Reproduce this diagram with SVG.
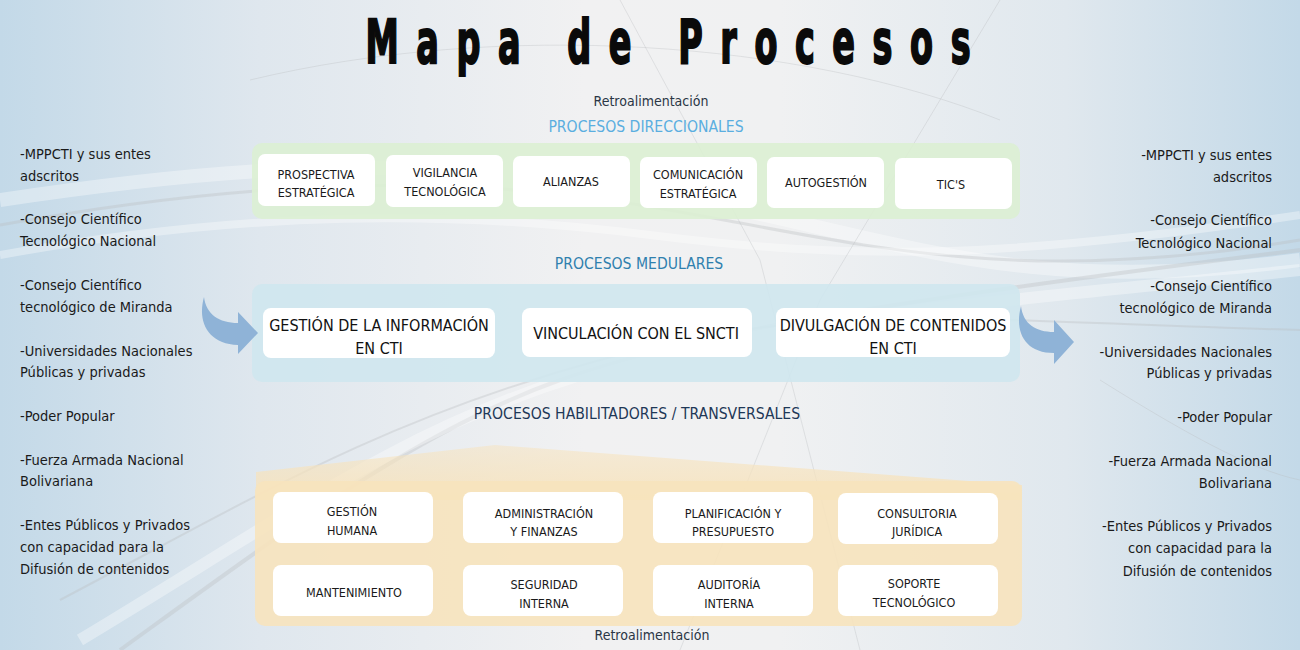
<svg xmlns="http://www.w3.org/2000/svg" width="1300" height="650" viewBox="0 0 1300 650">
<defs>
<linearGradient id="bg" x1="0" y1="0" x2="1" y2="0">
<stop offset="0" stop-color="#c3d9e8"/>
<stop offset="0.2" stop-color="#dfe7ee"/>
<stop offset="0.45" stop-color="#f1f1f2"/>
<stop offset="0.6" stop-color="#f0f1f2"/>
<stop offset="0.82" stop-color="#e0e8ee"/>
<stop offset="1" stop-color="#c3d9e8"/>
</linearGradient>
<linearGradient id="roof" x1="0" y1="0" x2="0" y2="1">
<stop offset="0" stop-color="#f7e3bd" stop-opacity="0.5"/>
<stop offset="1" stop-color="#f7e3bd" stop-opacity="0.9"/>
</linearGradient>
<style>
.t{font-family:"DejaVu Sans Condensed","Liberation Sans",sans-serif;}
.box{fill:#ffffff;}
.bt{font-size:12.5px;fill:#1a1a1a;text-anchor:middle;}
.mt{font-size:16px;fill:#111111;text-anchor:middle;}
.side{font-size:14.5px;fill:#1a1a1a;}
.sr{text-anchor:end;}
.sec{font-size:15.6px;text-anchor:middle;}
.ret{font-size:14px;fill:#2a3645;text-anchor:middle;}
.wisp{fill:none;stroke:#ffffff;stroke-opacity:0.35;}
.wispg{fill:none;stroke:#b9bcbf;stroke-opacity:0.35;}
.arr{fill:#8fb3d7;}
</style>
</defs>
<rect x="0" y="0" width="1300" height="650" fill="url(#bg)"/>
<g id="background-wisps">
<path class="wisp" stroke-width="14" d="M0 200 C 200 170, 400 150, 640 190 S 1000 300, 1300 260"/>
<path class="wispg" stroke-width="3" d="M0 225 C 220 185, 430 170, 640 205 S 1000 290, 1300 240"/>
<path class="wisp" stroke-width="8" d="M0 255 C 250 210, 450 210, 650 235 S 1000 260, 1300 215"/>
<path class="wispg" stroke-width="4" d="M120 650 C 300 520, 420 430, 560 380 S 900 300, 1300 250"/>
<path class="wisp" stroke-width="12" d="M80 640 C 280 520, 400 430, 580 375 S 920 310, 1300 270"/>
<path class="wispg" stroke-width="2" d="M60 600 C 250 500, 380 420, 600 360 S 950 320, 1300 330"/>
<path class="wispg" stroke-width="1" d="M250 80 C 500 20, 800 40, 1000 120"/>
<path class="wispg" stroke-width="1" d="M620 0 L 760 260 L 860 650"/>
<path class="wispg" stroke-width="1" d="M1000 0 L 820 300 L 680 650"/>
<path class="wispg" stroke-width="1" d="M1100 380 C 1180 430, 1250 470, 1300 480"/>
</g>
<text class="t" transform="translate(668,63) scale(0.62,1)" x="0" y="0" font-size="60" font-weight="bold" fill="#0a0a0a" stroke="#0a0a0a" stroke-width="2" text-anchor="middle" textLength="976" lengthAdjust="spacing">Mapa de Procesos</text>
<text class="t ret" x="651" y="106">Retroalimentación</text>
<text class="t sec" x="646" y="132" fill="#5aaee0">PROCESOS DIRECCIONALES</text>
<text class="t sec" x="639" y="269" fill="#2f80ae">PROCESOS MEDULARES</text>
<text class="t sec" x="637" y="419" fill="#1e3857">PROCESOS HABILITADORES / TRANSVERSALES</text>
<text class="t ret" x="652" y="640">Retroalimentación</text>
<g id="panel-direccionales">
<rect x="252" y="143" width="768" height="76" rx="10" fill="#dbf0d3" fill-opacity="0.9"/>
</g>
<g id="panel-medulares">
<rect x="252" y="284" width="768" height="98" rx="10" fill="#cfe7ee" fill-opacity="0.9"/>
</g>
<g id="panel-habilitadores">
<path d="M256 472 L 495 445 L 1022 485 L 1022 500 L 256 500 Z" fill="url(#roof)"/>
<rect x="255" y="481" width="767" height="145" rx="10" fill="#f7e3bd" fill-opacity="0.9"/>
</g>
<g id="n-prospectiva"><rect class="box" x="258" y="154" width="117" height="52" rx="7"/><text class="t bt" x="316" y="179">PROSPECTIVA</text><text class="t bt" x="316" y="197">ESTRATÉGICA</text></g>
<g id="n-vigilancia"><rect class="box" x="386" y="155" width="117" height="52" rx="7"/><text class="t bt" x="445" y="177">VIGILANCIA</text><text class="t bt" x="445" y="196">TECNOLÓGICA</text></g>
<g id="n-alianzas"><rect class="box" x="513" y="156" width="117" height="51" rx="7"/><text class="t bt" x="571" y="186">ALIANZAS</text></g>
<g id="n-comunicacion"><rect class="box" x="640" y="157" width="117" height="51" rx="7"/><text class="t bt" x="698" y="179">COMUNICACIÓN</text><text class="t bt" x="698" y="198">ESTRATÉGICA</text></g>
<g id="n-autogestion"><rect class="box" x="767" y="157" width="117" height="51" rx="7"/><text class="t bt" x="826" y="187">AUTOGESTIÓN</text></g>
<g id="n-tics"><rect class="box" x="895" y="158" width="117" height="51" rx="7"/><text class="t bt" x="951" y="189">TIC'S</text></g>
<g id="n-gestion-info"><rect class="box" x="263" y="308" width="232" height="50" rx="8"/><text class="t mt" x="379" y="331">GESTIÓN DE LA INFORMACIÓN</text><text class="t mt" x="379" y="354">EN CTI</text></g>
<g id="n-vinculacion"><rect class="box" x="522" y="308" width="230" height="49" rx="8"/><text class="t mt" x="636" y="339">VINCULACIÓN CON EL SNCTI</text></g>
<g id="n-divulgacion"><rect class="box" x="776" y="308" width="234" height="49" rx="8"/><text class="t mt" x="893" y="331">DIVULGACIÓN DE CONTENIDOS</text><text class="t mt" x="893" y="354">EN  CTI</text></g>
<g id="n-gestion-humana"><rect class="box" x="273" y="492" width="160" height="51" rx="8"/><text class="t bt" x="352" y="516">GESTIÓN</text><text class="t bt" x="352" y="535">HUMANA</text></g>
<g id="n-administracion"><rect class="box" x="463" y="492" width="160" height="51" rx="8"/><text class="t bt" x="544" y="518">ADMINISTRACIÓN</text><text class="t bt" x="544" y="536">Y FINANZAS</text></g>
<g id="n-planificacion"><rect class="box" x="653" y="492" width="160" height="51" rx="8"/><text class="t bt" x="733" y="518">PLANIFICACIÓN Y</text><text class="t bt" x="733" y="536">PRESUPUESTO</text></g>
<g id="n-consultoria"><rect class="box" x="838" y="493" width="160" height="51" rx="8"/><text class="t bt" x="917" y="518">CONSULTORIA</text><text class="t bt" x="917" y="536">JURÍDICA</text></g>
<g id="n-mantenimiento"><rect class="box" x="273" y="565" width="160" height="51" rx="8"/><text class="t bt" x="354" y="597">MANTENIMIENTO</text></g>
<g id="n-seguridad"><rect class="box" x="463" y="565" width="160" height="51" rx="8"/><text class="t bt" x="544" y="589">SEGURIDAD</text><text class="t bt" x="544" y="608">INTERNA</text></g>
<g id="n-auditoria"><rect class="box" x="653" y="565" width="160" height="51" rx="8"/><text class="t bt" x="729" y="589">AUDITORÍA</text><text class="t bt" x="729" y="608">INTERNA</text></g>
<g id="n-soporte"><rect class="box" x="838" y="565" width="160" height="51" rx="8"/><text class="t bt" x="914" y="588">SOPORTE</text><text class="t bt" x="914" y="607">TECNOLÓGICO</text></g>
<g id="n-left-list">
<text class="t side" x="20" y="159">-MPPCTI y sus entes</text>
<text class="t side" x="20" y="181">adscritos</text>
<text class="t side" x="20" y="224">-Consejo Científico</text>
<text class="t side" x="20" y="246">Tecnológico Nacional</text>
<text class="t side" x="20" y="290">-Consejo Científico</text>
<text class="t side" x="20" y="312">tecnológico de Miranda</text>
<text class="t side" x="20" y="356">-Universidades Nacionales</text>
<text class="t side" x="20" y="377">Públicas y privadas</text>
<text class="t side" x="20" y="421">-Poder Popular</text>
<text class="t side" x="20" y="465">-Fuerza Armada Nacional</text>
<text class="t side" x="20" y="486">Bolivariana</text>
<text class="t side" x="20" y="530">-Entes Públicos y Privados</text>
<text class="t side" x="20" y="552">con capacidad para la</text>
<text class="t side" x="20" y="574">Difusión de contenidos</text>
</g>
<g id="n-right-list">
<text class="t side sr" x="1272" y="160">-MPPCTI y sus entes</text>
<text class="t side sr" x="1272" y="182">adscritos</text>
<text class="t side sr" x="1272" y="225">-Consejo Científico</text>
<text class="t side sr" x="1272" y="248">Tecnológico Nacional</text>
<text class="t side sr" x="1272" y="291">-Consejo Científico</text>
<text class="t side sr" x="1272" y="313">tecnológico de Miranda</text>
<text class="t side sr" x="1272" y="357">-Universidades Nacionales</text>
<text class="t side sr" x="1272" y="378">Públicas y privadas</text>
<text class="t side sr" x="1272" y="422">-Poder Popular</text>
<text class="t side sr" x="1272" y="466">-Fuerza Armada Nacional</text>
<text class="t side sr" x="1272" y="488">Bolivariana</text>
<text class="t side sr" x="1272" y="531">-Entes Públicos y Privados</text>
<text class="t side sr" x="1272" y="553">con capacidad para la</text>
<text class="t side sr" x="1272" y="576">Difusión de contenidos</text>
</g>
<g id="connectors">
<path class="arr" d="M204 297 C 197 322, 208 344, 238 345 L 238 354 L 258 333 L 238 312 L 238 323 C 219 323, 206 314, 204 297 Z"/>
<path class="arr" d="M1021 306 C 1014 332, 1025 353, 1054 353 L 1054 364 L 1074 342 L 1054 320 L 1054 332 C 1036 332, 1023 324, 1021 306 Z"/>
</g>
</svg>
